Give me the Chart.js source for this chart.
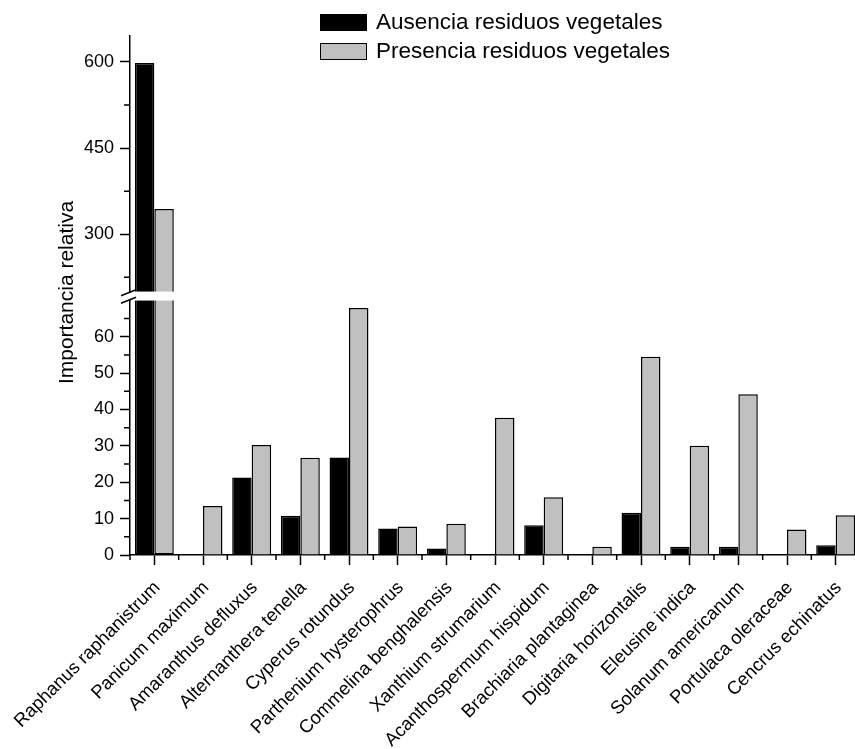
<!DOCTYPE html>
<html>
<head>
<meta charset="utf-8">
<script src="https://cdn.jsdelivr.net/npm/chart.js@4.4.0/dist/chart.umd.min.js"></script>
<style>
html, body { margin: 0; padding: 0; overflow: hidden; background: #fff; }
#wrap { position: relative; width: 862px; height: 749px; }
.legend { position: absolute; left: 320px; display: flex; align-items: center; height: 22px;
  font: 22.5px "Liberation Sans", Arial, sans-serif; color: #000; white-space: nowrap; }
.legend .box { width: 45px; height: 15px; border: 1.5px solid #000; margin-right: 9px; }
</style>
</head>
<body>
<div id="wrap">
  <canvas id="chart"></canvas>
  <div class="legend" style="top:11px"><span class="box" style="background:#000"></span>Ausencia residuos vegetales</div>
  <div class="legend" style="top:40px"><span class="box" style="background:#c0c0c0"></span>Presencia residuos vegetales</div>
</div>
<script>
const categories = ["Raphanus raphanistrum", "Panicum maximum", "Amaranthus defluxus", "Alternanthera tenella",
  "Cyperus rotundus", "Parthenium hysterophrus", "Commelina benghalensis", "Xanthium strumarium",
  "Acanthospermum hispidum", "Brachiaria plantaginea", "Digitaria horizontalis", "Eleusine indica",
  "Solanum americanum", "Portulaca oleraceae", "Cencrus echinatus"];
const ausencia = [598, 0, 21.3, 10.8, 26.8, 7.3, 1.8, 0, 8.2, 0, 11.6, 2.3, 2.3, 0, 2.7];
const presencia = [344, 13.5, 30.2, 26.7, 67.9, 7.8, 8.6, 37.7, 15.9, 2.3, 54.5, 30.0, 44.2, 7.0, 10.9];
const lowerTicks = [0, 10, 20, 30, 40, 50, 60];
const lowerMinor = [5, 15, 25, 35, 45, 55, 65];
const upperTicks = [300, 450, 600];
const upperMinor = [225, 375, 525];
const lowerRange = [0, 70];
const upperRange = [185, 645];
const breakFrom = 200; // upper segment of the axis starts here

const FONT = "'Liberation Sans', Arial, sans-serif";

// split each series into the part under the break and the part above it
const lowPart = vals => vals.map(v => Math.min(v, lowerRange[1]));
const highPart = vals => vals.map(v => v > breakFrom ? [breakFrom, v] : null);
const lowSkip = vals => vals.map(v => v > lowerRange[1] ? 'end' : 'start');

function barSet(label, data, axis, stack, color, skip) {
  return {
    label: label, data: data, yAxisID: axis, stack: stack,
    backgroundColor: color, borderColor: '#000', borderWidth: 1.5,
    borderSkipped: skip || 'start'
  };
}

const axisStyle = {
  grid: { drawOnChartArea: false, tickLength: 10, color: '#000', tickWidth: 1.5 },
  border: { color: '#000', width: 1.5 },
  ticks: { color: '#000', font: { size: 18, family: FONT }, padding: 6 }
};

const extras = {
  id: 'extras',
  afterDraw(chart) {
    const ctx = chart.ctx;
    const { x, y, y2 } = chart.scales;
    ctx.save();
    ctx.strokeStyle = '#000';
    ctx.lineWidth = 1.5;
    // minor ticks
    ctx.beginPath();
    lowerMinor.forEach(v => { const p = y.getPixelForValue(v); ctx.moveTo(x.left, p); ctx.lineTo(x.left - 6, p); });
    upperMinor.forEach(v => { const p = y2.getPixelForValue(v); ctx.moveTo(x.left, p); ctx.lineTo(x.left - 6, p); });
    for (let i = 0; i <= categories.length; i++) {
      const p = x.getPixelForValue(i - 0.5);
      ctx.moveTo(p, y.bottom); ctx.lineTo(p, y.bottom + 5);
    }
    ctx.stroke();
    // axis break
    const top = y2.getPixelForValue(breakFrom), bot = y.top;
    ctx.fillStyle = '#fff';
    ctx.fillRect(x.left - 3, top + 1, 5, bot - top - 2);
    ctx.beginPath();
    [top + 1, bot].forEach(p => { ctx.moveTo(x.left - 9, p + 3); ctx.lineTo(x.left + 6, p - 3); });
    ctx.stroke();
    // y title centred on the whole broken axis
    ctx.fillStyle = '#000';
    ctx.font = '21px ' + FONT;
    ctx.textAlign = 'center';
    ctx.textBaseline = 'middle';
    ctx.translate(67, (y2.top + y.bottom) / 2 - 3);
    ctx.rotate(-Math.PI / 2);
    ctx.fillText('Importancia relativa', 0, 0);
    ctx.restore();
  }
};

new Chart(document.getElementById('chart'), {
  type: 'bar',
  data: {
    labels: categories,
    datasets: [
      barSet('Ausencia residuos vegetales', lowPart(ausencia), 'y', 'a', '#000', lowSkip(ausencia)),
      barSet('Presencia residuos vegetales', lowPart(presencia), 'y', 'b', '#c0c0c0', lowSkip(presencia)),
      barSet('Ausencia residuos vegetales', highPart(ausencia), 'y2', 'a', '#000'),
      barSet('Presencia residuos vegetales', highPart(presencia), 'y2', 'b', '#c0c0c0')
    ]
  },
  options: {
    responsive: true,
    maintainAspectRatio: false,
    animation: false,
    categoryPercentage: 0.8,
    barPercentage: 1.0,
    layout: { padding: { top: 36, right: 2, left: 0, bottom: 0 } },
    plugins: { legend: { display: false }, tooltip: { enabled: false } },
    scales: {
      x: {
        grid: { offset: false, drawOnChartArea: false, tickLength: 10, color: '#000', tickWidth: 1.5 },
        border: { color: '#000', width: 1.5 },
        ticks: { color: '#000', font: { size: 18.5, family: FONT }, minRotation: 45, maxRotation: 45, autoSkip: false,
          padding: 12, labelOffset: 3 },
        afterFit(s) { s.height = 194; s.paddingLeft = 0; s.paddingRight = 0; }
      },
      y: Object.assign({}, axisStyle, {
        position: 'left', stack: 'v', stackWeight: 254.8, stacked: false,
        min: lowerRange[0], max: lowerRange[1],
        afterBuildTicks(s) { s.ticks = lowerTicks.map(v => ({ value: v })); },
        afterFit(s) { s.width = 130; }
      }),
      y2: Object.assign({}, axisStyle, {
        position: 'left', stack: 'v', stackWeight: 264.4, stacked: false,
        min: upperRange[0], max: upperRange[1],
        afterBuildTicks(s) { s.ticks = upperTicks.map(v => ({ value: v })); },
        afterFit(s) { s.width = 130; }
      })
    }
  },
  plugins: [extras]
});
</script>
</body>
</html>
